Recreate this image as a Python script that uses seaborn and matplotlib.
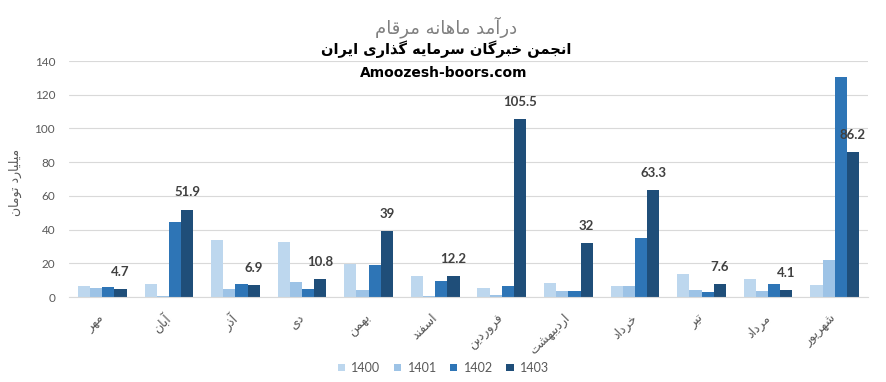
import numpy as np
import pandas as pd
import seaborn as sns
import matplotlib.pyplot as plt

# ---------------- data ----------------
months = ['مهر', 'آبان', 'آذر', 'دی', 'بهمن', 'اسفند', 'فروردین',
          'اردیبهشت', 'خرداد', 'تیر', 'مرداد', 'شهریور']
years = ['1400', '1401', '1402', '1403']
v1400 = [6.7, 8.0, 34.0, 32.8, 19.8, 12.6, 5.5, 8.5, 6.7, 13.8, 10.8, 7.3]
v1401 = [5.5, 0.8, 5.0, 9.0, 4.3, 0.8, 1.4, 3.8, 6.7, 4.3, 3.8, 22.0]
v1402 = [6.1, 44.7, 8.0, 5.0, 19.2, 9.6, 6.7, 3.8, 35.2, 3.2, 8.0, 130.7]
v1403 = [4.7, 51.9, 6.9, 10.8, 39, 12.2, 105.5, 32, 63.3, 7.6, 4.1, 86.2]
title1 = 'درآمد ماهانه مرقام'
title2 = 'انجمن خبرگان سرمایه گذاری ایران'
site = 'Amoozesh-boors.com'
ylabel = 'میلیارد تومان'
colors = ['#BDD7EE', '#9DC3E6', '#2E75B6', '#1F4E79']

# ---------------- minimal Persian shaping (matplotlib has no bidi/shaping) ----
FORMS = {
    'ا': ('\uFE8D', '\uFE8E', None, None),
    'آ': ('\uFE81', '\uFE82', None, None),
    'ب': ('\uFE8F', '\uFE90', '\uFE91', '\uFE92'),
    'ت': ('\uFE95', '\uFE96', '\uFE97', '\uFE98'),
    'ج': ('\uFE9D', '\uFE9E', '\uFE9F', '\uFEA0'),
    'خ': ('\uFEA5', '\uFEA6', '\uFEA7', '\uFEA8'),
    'د': ('\uFEA9', '\uFEAA', None, None),
    'ذ': ('\uFEAB', '\uFEAC', None, None),
    'ر': ('\uFEAD', '\uFEAE', None, None),
    'ز': ('\uFEAF', '\uFEB0', None, None),
    'س': ('\uFEB1', '\uFEB2', '\uFEB3', '\uFEB4'),
    'ش': ('\uFEB5', '\uFEB6', '\uFEB7', '\uFEB8'),
    'ف': ('\uFED1', '\uFED2', '\uFED3', '\uFED4'),
    'ق': ('\uFED5', '\uFED6', '\uFED7', '\uFED8'),
    'ل': ('\uFEDD', '\uFEDE', '\uFEDF', '\uFEE0'),
    'م': ('\uFEE1', '\uFEE2', '\uFEE3', '\uFEE4'),
    'ن': ('\uFEE5', '\uFEE6', '\uFEE7', '\uFEE8'),
    'ه': ('\uFEE9', '\uFEEA', '\uFEEB', '\uFEEC'),
    'و': ('\uFEED', '\uFEEE', None, None),
    'ی': ('\uFBFC', '\uFBFD', '\uFBFE', '\uFBFF'),
    'گ': ('\uFB92', '\uFB93', '\uFB94', '\uFB95'),
    'ک': ('\uFB8E', '\uFB8F', '\uFB90', '\uFB91'),
}


def shape(s):
    out = []
    n = len(s)
    for i, c in enumerate(s):
        if c not in FORMS:
            out.append(c)
            continue
        iso, fin, ini, med = FORMS[c]
        prev = s[i - 1] if i > 0 else ''
        nxt = s[i + 1] if i + 1 < n else ''
        jp = prev in FORMS and FORMS[prev][2] is not None
        jn = nxt in FORMS and ini is not None
        if jp and jn:
            out.append(med)
        elif jp:
            out.append(fin)
        elif jn:
            out.append(ini)
        else:
            out.append(iso)
    return ''.join(out)[::-1]


# ---------------- plot ----------------
sns.set_style('white')
plt.rcParams['font.family'] = ['Lato', 'DejaVu Sans']

df = pd.DataFrame({
    'month': months * 4,
    'year': sum([[y] * len(months) for y in years], []),
    'value': v1400 + v1401 + v1402 + v1403,
})

fig = plt.figure(figsize=(8.87, 3.82), dpi=100)
ax = fig.add_axes([69 / 887, 1 - 297 / 382, (868 - 69) / 887, (297 - 61) / 382])

sns.barplot(data=df, x='month', y='value', hue='year', order=months,
            hue_order=years, palette=colors, width=0.73, gap=0,
            saturation=1, linewidth=0, errorbar=None, ax=ax, legend=True)

ax.set_ylim(0, 140)
ax.set_xlim(-0.5, 11.5)
ax.set_yticks(range(0, 141, 20))
ax.yaxis.grid(True, color='#D9D9D9', linewidth=0.8)
ax.set_axisbelow(True)
for sp in ['top', 'right', 'left']:
    ax.spines[sp].set_visible(False)
ax.spines['bottom'].set_color('#D9D9D9')
ax.spines['bottom'].set_linewidth(0.8)
ax.tick_params(axis='both', length=0, colors='#595959')
ax.tick_params(axis='y', labelsize=8.5, pad=10)
ax.set_xticks(range(len(months)))
ax.set_xticklabels([shape(m) for m in months], rotation=45, ha='right',
                   va='center', rotation_mode='anchor', fontsize=9,
                   color='#595959', family='DejaVu Sans')
ax.tick_params(axis='x', pad=14)
ax.set_xlabel('')
ax.set_ylabel('')

# data labels on 1403
ax.bar_label(ax.containers[3], labels=[f'{v:g}' for v in v1403], padding=8,
             fontsize=9.5, fontweight='bold', color='#404040')

# legend
handles, labels = ax.get_legend_handles_labels()
ax.legend(handles, labels, loc='center', bbox_to_anchor=(0.5, 1 - 368 / 382),
          bbox_transform=fig.transFigure, ncol=4, frameon=False,
          handlelength=0.56, handleheight=0.56, handletextpad=0.5,
          columnspacing=1.1, prop={'size': 9})
for t in ax.get_legend().get_texts():
    t.set_color('#595959')

# titles
fig.text(0.503, 1 - 27 / 382, shape(title1), ha='center', va='center',
         fontsize=13, color='#808080', family='DejaVu Sans')
fig.text(0.503, 1 - 49 / 382, shape(title2), ha='center', va='center',
         fontsize=10.5, fontweight='bold', color='black', family='DejaVu Sans')
fig.text(0.5, 1 - 73 / 382, site, ha='center', va='center',
         fontsize=10, fontweight='bold', color='black', family='DejaVu Sans')
fig.text(15 / 887, 1 - 182 / 382, shape(ylabel), ha='center', va='center',
         rotation=90, fontsize=9, color='#595959', family='DejaVu Sans')

fig.savefig('out.png', dpi=100)
